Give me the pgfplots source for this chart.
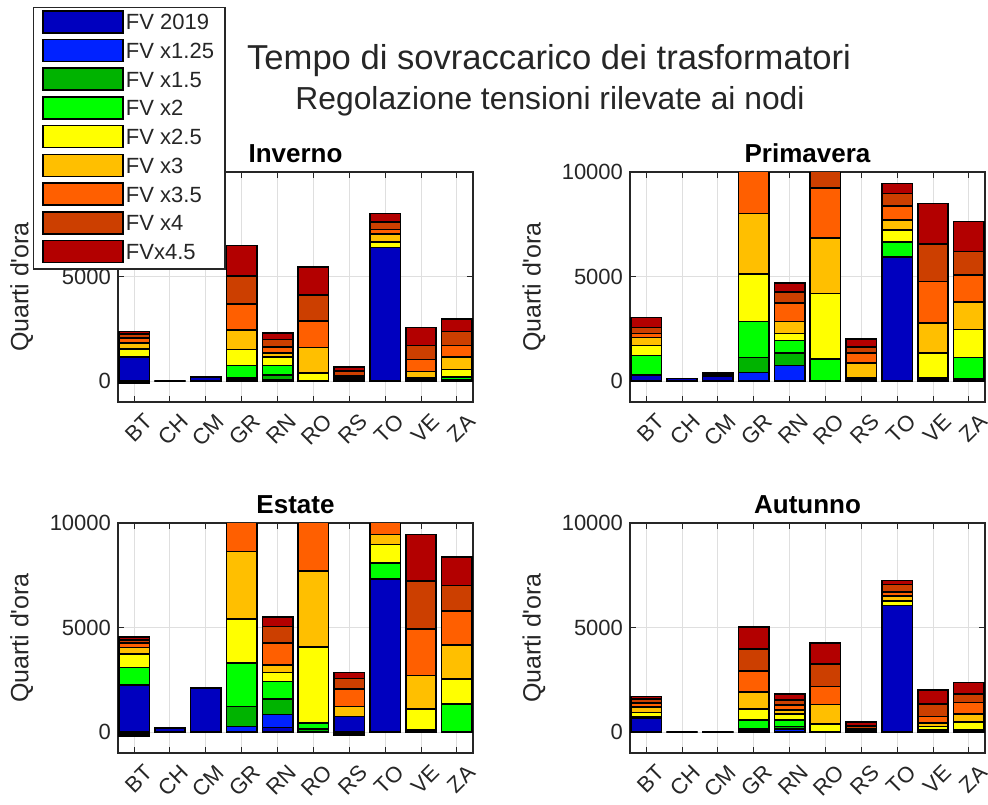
\documentclass[border=0pt]{standalone}
\usepackage{pgfplots}
\pgfplotsset{compat=1.18}
\usepackage{pgfplotstable}
\usepackage{fontspec}
\setmainfont{Liberation Sans}

% Series colours (PV scenarios)
\definecolor{fvA}{RGB}{0,0,191}     % FV 2019
\definecolor{fvB}{RGB}{0,34,255}    % FV x1.25
\definecolor{fvC}{RGB}{0,179,0}     % FV x1.5
\definecolor{fvD}{RGB}{0,255,0}     % FV x2
\definecolor{fvE}{RGB}{255,255,0}   % FV x2.5
\definecolor{fvF}{RGB}{255,191,0}   % FV x3
\definecolor{fvG}{RGB}{255,95,0}    % FV x3.5
\definecolor{fvH}{RGB}{204,63,0}    % FV x4
\definecolor{fvI}{RGB}{179,0,0}     % FV x4.5
\definecolor{axgray}{RGB}{38,38,38}

% Columns: a = FV 2019, b = x1.25, c = x1.5, d = x2, e = x2.5, f = x3,
% g = x3.5, h = x4, i = x4.5, n = small negative residue
\pgfplotstableread{
x a b c d e f g h i n
1 1143 1143 1143 1143 1524 1809 2063 2238 2380 -95
2 0 0 0 0 0 0 0 0 0 0
3 206 206 206 206 206 206 206 206 206 0
4 30 60 140 746 1508 2444 3698 5031 6491 0
5 20 50 302 746 1143 1349 1635 1984 2301 0
6 0 0 10 30 381 1603 2872 4110 5443 0
7 0 0 30 60 100 150 238 476 667 0
8 6380 6380 6380 6380 6665 7046 7253 7618 8014 0
9 0 0 30 60 143 460 1032 1698 2571 0
10 0 0 60 190 555 1143 1698 2365 2968 0
}\inverno

\pgfplotstableread{
x a b c d e f g h i n
1 300 300 300 1222 1698 2079 2285 2571 3047 0
2 120 120 120 120 120 120 120 120 120 0
3 240 260 280 300 320 340 360 380 400 0
4 20 413 1127 2857 5126 8014 10500 11000 11500 0
5 0 746 1333 1936 2285 2857 3729 4269 4682 0
6 0 0 20 1063 4190 6856 9236 10500 11000 0
7 0 30 60 100 175 873 1349 1619 2015 0
8 5935 5935 5935 6649 7221 7697 8363 8967 9443 0
9 0 0 60 143 1333 2777 4761 6570 8490 0
10 0 40 100 1127 2460 3793 5063 6189 7634 0
}\primavera

\pgfplotstableread{
x a b c d e f g h i n
1 2254 2254 2254 3095 3729 4047 4253 4412 4555 -206
2 190 190 190 190 190 190 190 190 190 0
3 2095 2095 2095 2095 2095 2095 2095 2095 2095 0
4 20 270 1222 3317 5412 8633 10500 11000 11500 0
5 222 841 1587 2428 2857 3222 4253 5047 5507 0
6 0 0 143 428 4079 7697 10500 11000 11500 0
7 746 746 746 746 746 1222 2063 2571 2857 -127
8 7332 7332 7332 8094 8967 9443 10300 10600 10900 0
9 0 0 30 111 1111 2714 4936 7221 9443 0
10 0 0 0 1333 2539 4158 5793 7015 8364 0
}\estate

\pgfplotstableread{
x a b c d e f g h i n
1 667 680 690 720 936 1190 1381 1571 1698 0
2 0 0 0 0 0 0 0 0 0 0
3 0 0 0 0 0 0 0 0 0 0
4 0 50 143 587 1111 1904 2936 3983 5031 0
5 0 143 270 587 857 1063 1301 1539 1809 0
6 0 0 0 0 381 1317 2174 3253 4269 0
7 0 0 0 0 50 111 175 302 476 0
8 6062 6062 6062 6062 6269 6523 6697 7062 7253 0
9 0 0 0 111 270 428 746 1333 2015 0
10 0 0 0 111 476 873 1412 1825 2380 0
}\autunno

\pgfplotsset{
  fvbar/.style={ybar, bar width=0.85, bar shift=0pt, draw=black, line width=0.8pt,
    legend image code/.code={\draw[##1] (0pt,-4.25pt) rectangle (40pt,6.75pt);}},
  panel/.style={
    scale only axis, width=177.5pt, height=115pt,
    xmin=0.55, xmax=10.45, ymin=-1000, ymax=10000,
    xtick={1,...,10}, xticklabels={BT,CH,CM,GR,RN,RO,RS,TO,VE,ZA},
    ytick={0,5000,10000}, yticklabels={0,5000,10000}, scaled y ticks=false,
    grid=major, major grid style={gray!25, line width=0.5pt},
    axis line style={axgray, line width=0.6pt},
    tick style={axgray, line width=0.5pt}, major tick length=3pt, tick align=inside,
    tick label style={font=\fontsize{11}{13}\selectfont, text=axgray},
    xticklabel style={rotate=45, anchor=north east, xshift=3pt, yshift=-3.5pt},
    ylabel={Quarti d\textquotesingle ora},
    ylabel style={font=\fontsize{12.5}{14}\selectfont, text=axgray,
      at={(axis description cs:-0.271,0.5)}, anchor=center},
    title style={font=\fontsize{13}{15}\selectfont\bfseries, at={(0.5,1)}, anchor=base, yshift=-1pt},
  },
}

% Overlaid bars: largest scenario behind, FV 2019 in front
\newcommand{\fvbars}[1]{%
  \addplot[fvbar, fill=black, forget plot] table[x=x,y=n]{#1};
  \addplot[fvbar, fill=fvI] table[x=x,y=i]{#1};
  \addplot[fvbar, fill=fvH] table[x=x,y=h]{#1};
  \addplot[fvbar, fill=fvG] table[x=x,y=g]{#1};
  \addplot[fvbar, fill=fvF] table[x=x,y=f]{#1};
  \addplot[fvbar, fill=fvE] table[x=x,y=e]{#1};
  \addplot[fvbar, fill=fvD] table[x=x,y=d]{#1};
  \addplot[fvbar, fill=fvC] table[x=x,y=c]{#1};
  \addplot[fvbar, fill=fvB] table[x=x,y=b]{#1};
  \addplot[fvbar, fill=fvA] table[x=x,y=a]{#1};
}

\begin{document}
\begin{tikzpicture}
\useasboundingbox (0,0) rectangle (494pt,402pt);

\begin{axis}[panel, at={(59pt,201pt)}, anchor=south west, title={Inverno},
  legend style={at={(-0.2401,0.576)}, anchor=south west, draw=axgray, fill=white,
    line width=0.6pt, font=\fontsize{11}{13}\selectfont, text=axgray,
    inner xsep=4.5pt, inner ysep=1.25pt, row sep=0.95pt,
    nodes={inner sep=1pt, text height=8pt, text depth=2.5pt}},
  legend cell align=left, reverse legend]
\fvbars{\inverno}
\legend{FVx4.5,FV x4,FV x3.5,FV x3,FV x2.5,FV x2,FV x1.5,FV x1.25,FV 2019}
\end{axis}

\begin{axis}[panel, at={(315pt,201pt)}, anchor=south west, title={Primavera}]
\fvbars{\primavera}
\end{axis}

\begin{axis}[panel, at={(59pt,25.5pt)}, anchor=south west, title={Estate}]
\fvbars{\estate}
\end{axis}

\begin{axis}[panel, at={(315pt,25.5pt)}, anchor=south west, title={Autunno}]
\fvbars{\autunno}
\end{axis}

\node[anchor=base, font=\fontsize{17.3}{20}\selectfont, text=axgray] at (274.5pt,367pt)
  {Tempo di sovraccarico dei trasformatori};
\node[anchor=base, font=\fontsize{15.9}{18}\selectfont, text=axgray] at (275pt,347pt)
  {Regolazione tensioni rilevate ai nodi};
\end{tikzpicture}
\end{document}
